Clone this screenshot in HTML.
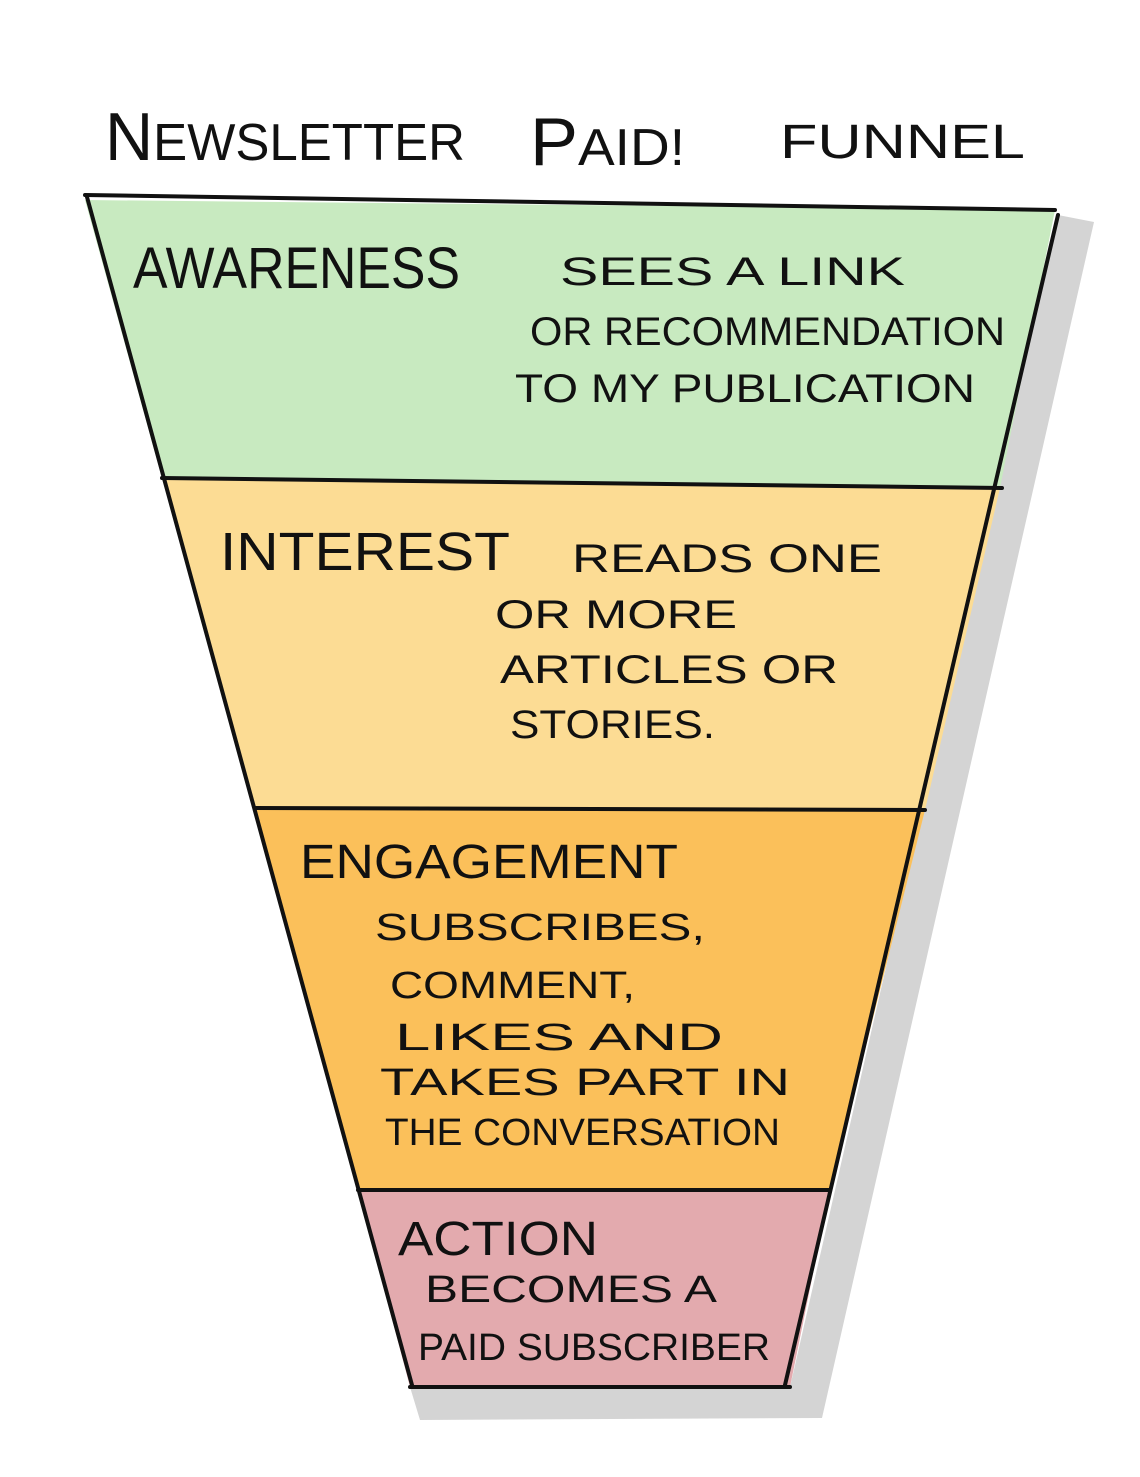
<!DOCTYPE html>
<html><head><meta charset="utf-8"><style>
html,body{margin:0;padding:0;background:#fff;}
svg{display:block}
text{font-family:"Liberation Sans",sans-serif;fill:#111;}
</style></head><body>
<svg width="1140" height="1477" viewBox="0 0 1140 1477" xmlns="http://www.w3.org/2000/svg">
<!-- shadow -->
<polygon points="1058,215 1094,222 822,1418 420,1420 410,1387 790,1387" fill="#d4d4d4"/>
<!-- fills -->
<polygon points="85,200 1055,210 1000,488 162,478" fill="#c8eac0"/>
<polygon points="162,478 1000,488 925,810 255,808" fill="#fcdc94"/>
<polygon points="255,808 925,810 830,1190 358,1190" fill="#fbc05a"/>
<polygon points="358,1190 830,1190 790,1387 410,1387" fill="#e3aaae"/>
<!-- outlines -->
<g stroke="#111" stroke-width="4" fill="none" stroke-linecap="round">
<line x1="85" y1="195" x2="1055" y2="210"/>
<line x1="87" y1="197" x2="412" y2="1385"/>
<line x1="1058" y1="215" x2="785" y2="1385"/>
<line x1="162" y1="478" x2="1002" y2="488"/>
<line x1="255" y1="808" x2="925" y2="810"/>
<line x1="358" y1="1190" x2="830" y2="1190"/>
<line x1="410" y1="1387" x2="790" y2="1387"/>
</g>
<!-- text -->
<text x="105" y="160" font-size="68" textLength="360" lengthAdjust="spacingAndGlyphs">N<tspan font-size="52">EWSLETTER</tspan></text>
<text x="530" y="165" font-size="68" textLength="155" lengthAdjust="spacingAndGlyphs">P<tspan font-size="52">AID!</tspan></text>
<text x="780" y="158" font-size="48" textLength="245" lengthAdjust="spacingAndGlyphs">FUNNEL</text>
<text x="133" y="288" font-size="58" textLength="327" lengthAdjust="spacingAndGlyphs">AWARENESS</text>
<g font-size="40">
<text x="560" y="285" textLength="345" lengthAdjust="spacingAndGlyphs">SEES  A LINK</text>
<text x="530" y="345" textLength="475" lengthAdjust="spacingAndGlyphs">OR RECOMMENDATION</text>
<text x="515" y="402" textLength="460" lengthAdjust="spacingAndGlyphs">TO MY PUBLICATION</text>
</g>
<text x="220" y="570" font-size="54" textLength="290" lengthAdjust="spacingAndGlyphs">INTEREST</text>
<g font-size="40">
<text x="572" y="572" textLength="310" lengthAdjust="spacingAndGlyphs">READS  ONE</text>
<text x="495" y="628" textLength="242" lengthAdjust="spacingAndGlyphs">OR  MORE</text>
<text x="500" y="683" textLength="338" lengthAdjust="spacingAndGlyphs">ARTICLES  OR</text>
<text x="510" y="738" textLength="205" lengthAdjust="spacingAndGlyphs">STORIES.</text>
</g>
<text x="300" y="878" font-size="48" textLength="378" lengthAdjust="spacingAndGlyphs">ENGAGEMENT</text>
<g font-size="38">
<text x="375" y="940" textLength="330" lengthAdjust="spacingAndGlyphs">SUBSCRIBES,</text>
<text x="390" y="998" textLength="245" lengthAdjust="spacingAndGlyphs">COMMENT,</text>
<text x="395" y="1050" textLength="328" lengthAdjust="spacingAndGlyphs">LIKES  AND</text>
<text x="380" y="1095" textLength="410" lengthAdjust="spacingAndGlyphs">TAKES  PART  IN</text>
<text x="385" y="1145" textLength="395" lengthAdjust="spacingAndGlyphs">THE CONVERSATION</text>
</g>
<text x="398" y="1255" font-size="48" textLength="200" lengthAdjust="spacingAndGlyphs">ACTION</text>
<g font-size="38">
<text x="425" y="1302" textLength="292" lengthAdjust="spacingAndGlyphs">BECOMES  A</text>
<text x="418" y="1360" textLength="352" lengthAdjust="spacingAndGlyphs">PAID SUBSCRIBER</text>
</g>
</svg>
</body></html>
